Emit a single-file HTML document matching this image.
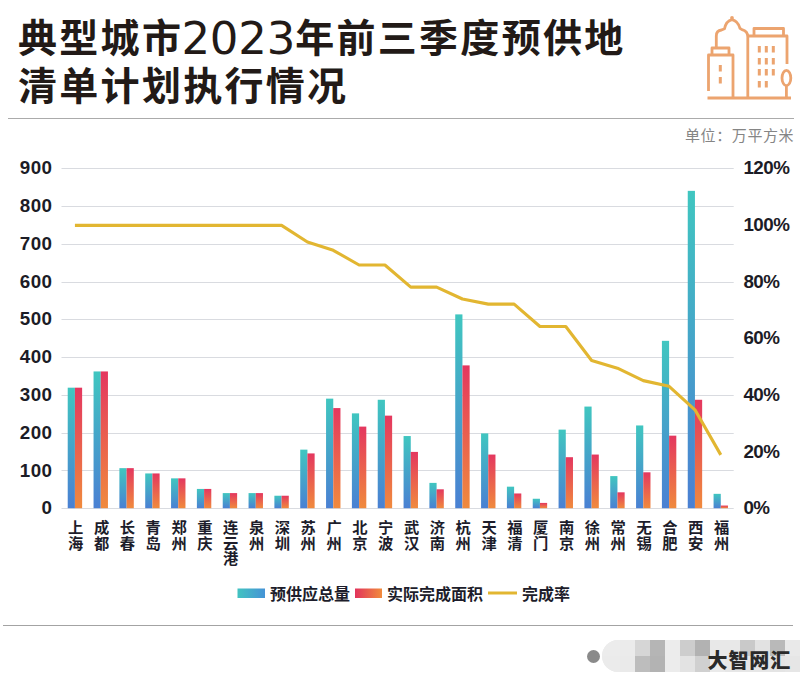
<!DOCTYPE html>
<html lang="zh-CN"><head><meta charset="utf-8"><title>典型城市2023年前三季度预供地清单计划执行情况</title>
<style>
html,body{margin:0;padding:0;background:#fff;}
body{width:800px;height:688px;position:relative;overflow:hidden;font-family:"Liberation Sans","Noto Sans CJK SC",sans-serif;}
.title{position:absolute;left:18px;top:13px;margin:0;font-family:"Liberation Sans","Noto Sans CJK SC",sans-serif;font-weight:700;font-size:39px;line-height:48px;letter-spacing:2.3px;color:#221a17;white-space:nowrap;}
.title .n{font-family:"DejaVu Sans",sans-serif;font-weight:400;font-size:45px;letter-spacing:-0.2px;position:relative;top:2px;margin-left:-1.8px;}
.hr{position:absolute;height:1px;background:#ababab;}
.unit{position:absolute;left:685px;top:126px;font-family:"Liberation Sans","Noto Sans CJK SC",sans-serif;font-size:15px;line-height:20px;color:#858585;letter-spacing:0.6px;}
svg text.ax{font-family:"Liberation Sans",sans-serif;font-weight:700;font-size:18.8px;fill:#1c1c26;letter-spacing:0.4px;}
svg text.axr{letter-spacing:-0.5px;}
svg text.xl{font-family:"Liberation Sans","Noto Sans CJK SC",sans-serif;font-weight:700;font-size:15.3px;fill:#1d1d2b;}
.legend{position:absolute;left:0;top:584.5px;height:20px;font-family:"Liberation Sans","Noto Sans CJK SC",sans-serif;font-weight:700;font-size:16px;line-height:20px;color:#1d1d2b;white-space:nowrap;}
.legend span{position:absolute;top:0;}
.sw{position:absolute;}
.dot{position:absolute;left:587px;top:649.5px;width:13px;height:13px;border-radius:50%;background:#8a8a8a;}
.mosaic{position:absolute;left:602px;top:640px;width:198px;height:31.5px;border-radius:16px 0 0 16px;overflow:hidden;background:#ebebeb;}
.mosaic i{position:absolute;width:15px;height:15.5px;}
.brand{position:absolute;left:707.5px;top:646.5px;font-family:"Liberation Sans","Noto Sans CJK SC",sans-serif;font-weight:900;font-size:20px;line-height:28px;color:#2a2a2a;letter-spacing:0.9px;}
</style></head>
<body>
<h1 class="title">典型城市<span class="n">2023</span>年前三季度预供地<br>清单计划执行情况</h1>
<svg class="icon" width="800" height="120" viewBox="0 0 800 120" style="position:absolute;left:0;top:0">
<g fill="none" stroke="#eca46f" stroke-width="2.8" stroke-linejoin="round" stroke-linecap="butt">
<line x1="707.5" y1="98" x2="791" y2="98"/>
<path d="M708.5 91 V55 H733 V98"/>
<path d="M712 55 V48 H729 V55"/>
<path d="M716.3 48 V36 Q716.3 30.5 721.5 30 L724.5 28.8 Q726 21 732 19.6 Q738 21 740 28.3 L742 29.6 Q747.8 31 747.8 37 V98"/>
<path d="M748 36 H787 V64"/>
<path d="M754 36 V28.5 H783.5 V36"/>
<ellipse cx="786.4" cy="78" rx="4.4" ry="7.6"/>
<line x1="786.4" y1="85.6" x2="786.4" y2="98"/>
</g>
<g fill="#eca46f">
<rect x="757.8" y="46.0" width="3" height="6.5"/><rect x="764.8" y="46.0" width="3" height="6.5"/><rect x="771.8" y="46.0" width="3" height="6.5"/>
<rect x="757.8" y="58.0" width="3" height="6.5"/><rect x="764.8" y="58.0" width="3" height="6.5"/><rect x="771.8" y="58.0" width="3" height="6.5"/>
<rect x="757.8" y="69.0" width="3" height="6.5"/><rect x="764.8" y="69.0" width="3" height="6.5"/><rect x="771.8" y="69.0" width="3" height="6.5"/>
<rect x="757.8" y="81.0" width="3" height="6.5"/><rect x="764.8" y="81.0" width="3" height="6.5"/>
<rect x="718.8" y="65.0" width="3" height="6.5"/><rect x="718.8" y="77.0" width="3" height="6.5"/>
<circle cx="732" cy="18" r="1.9"/>
</g>
</svg>
<div class="hr" style="left:8px;top:118px;width:786px;"></div>
<div class="unit">单位：万平方米</div>
<svg width="800" height="688" viewBox="0 0 800 688" style="position:absolute;left:0;top:0">
<defs>
<linearGradient id="gt" x1="0" y1="0" x2="0" y2="1"><stop offset="0" stop-color="#40c6c0"/><stop offset="1" stop-color="#4a80d3"/></linearGradient>
<linearGradient id="gr" x1="0" y1="0" x2="0" y2="1"><stop offset="0" stop-color="#e4375f"/><stop offset="1" stop-color="#f08a3d"/></linearGradient>
<linearGradient id="gth" x1="0" y1="0" x2="1" y2="0"><stop offset="0" stop-color="#42c3c1"/><stop offset="1" stop-color="#4593d6"/></linearGradient>
<linearGradient id="grh" x1="0" y1="0" x2="1" y2="0"><stop offset="0" stop-color="#e2335c"/><stop offset="1" stop-color="#f18c3c"/></linearGradient>
</defs>
<line x1="61.5" y1="508.5" x2="733.7" y2="508.5" stroke="#d9dbe0" stroke-width="1.1"/>
<line x1="61.5" y1="470.5" x2="733.7" y2="470.5" stroke="#d9dbe0" stroke-width="1.1"/>
<line x1="61.5" y1="433.5" x2="733.7" y2="433.5" stroke="#d9dbe0" stroke-width="1.1"/>
<line x1="61.5" y1="395.5" x2="733.7" y2="395.5" stroke="#d9dbe0" stroke-width="1.1"/>
<line x1="61.5" y1="357.5" x2="733.7" y2="357.5" stroke="#d9dbe0" stroke-width="1.1"/>
<line x1="61.5" y1="319.5" x2="733.7" y2="319.5" stroke="#d9dbe0" stroke-width="1.1"/>
<line x1="61.5" y1="282.5" x2="733.7" y2="282.5" stroke="#d9dbe0" stroke-width="1.1"/>
<line x1="61.5" y1="244.5" x2="733.7" y2="244.5" stroke="#d9dbe0" stroke-width="1.1"/>
<line x1="61.5" y1="206.5" x2="733.7" y2="206.5" stroke="#d9dbe0" stroke-width="1.1"/>
<line x1="61.5" y1="168.5" x2="733.7" y2="168.5" stroke="#d9dbe0" stroke-width="1.1"/>
<rect x="67.72" y="387.68" width="7.2" height="120.52" fill="url(#gt)"/>
<rect x="74.92" y="387.68" width="7.2" height="120.52" fill="url(#gr)"/>
<rect x="93.55" y="371.44" width="7.2" height="136.76" fill="url(#gt)"/>
<rect x="100.75" y="371.44" width="7.2" height="136.76" fill="url(#gr)"/>
<rect x="119.39" y="468.15" width="7.2" height="40.05" fill="url(#gt)"/>
<rect x="126.59" y="468.15" width="7.2" height="40.05" fill="url(#gr)"/>
<rect x="145.22" y="473.44" width="7.2" height="34.76" fill="url(#gt)"/>
<rect x="152.42" y="473.44" width="7.2" height="34.76" fill="url(#gr)"/>
<rect x="171.06" y="478.35" width="7.2" height="29.85" fill="url(#gt)"/>
<rect x="178.26" y="478.35" width="7.2" height="29.85" fill="url(#gr)"/>
<rect x="196.89" y="488.93" width="7.2" height="19.27" fill="url(#gt)"/>
<rect x="204.09" y="488.93" width="7.2" height="19.27" fill="url(#gr)"/>
<rect x="222.73" y="493.09" width="7.2" height="15.11" fill="url(#gt)"/>
<rect x="229.93" y="493.09" width="7.2" height="15.11" fill="url(#gr)"/>
<rect x="248.56" y="493.09" width="7.2" height="15.11" fill="url(#gt)"/>
<rect x="255.76" y="493.09" width="7.2" height="15.11" fill="url(#gr)"/>
<rect x="274.39" y="495.73" width="7.2" height="12.47" fill="url(#gt)"/>
<rect x="281.59" y="495.73" width="7.2" height="12.47" fill="url(#gr)"/>
<rect x="300.23" y="449.64" width="7.2" height="58.56" fill="url(#gt)"/>
<rect x="307.43" y="453.42" width="7.2" height="54.78" fill="url(#gr)"/>
<rect x="326.06" y="398.64" width="7.2" height="109.56" fill="url(#gt)"/>
<rect x="333.26" y="408.08" width="7.2" height="100.12" fill="url(#gr)"/>
<rect x="351.90" y="413.37" width="7.2" height="94.83" fill="url(#gt)"/>
<rect x="359.10" y="426.60" width="7.2" height="81.60" fill="url(#gr)"/>
<rect x="377.73" y="399.77" width="7.2" height="108.43" fill="url(#gt)"/>
<rect x="384.93" y="415.64" width="7.2" height="92.56" fill="url(#gr)"/>
<rect x="403.57" y="436.04" width="7.2" height="72.16" fill="url(#gt)"/>
<rect x="410.77" y="451.91" width="7.2" height="56.29" fill="url(#gr)"/>
<rect x="429.40" y="482.89" width="7.2" height="25.31" fill="url(#gt)"/>
<rect x="436.60" y="489.31" width="7.2" height="18.89" fill="url(#gr)"/>
<rect x="455.24" y="314.39" width="7.2" height="193.81" fill="url(#gt)"/>
<rect x="462.44" y="365.39" width="7.2" height="142.81" fill="url(#gr)"/>
<rect x="481.07" y="433.40" width="7.2" height="74.80" fill="url(#gt)"/>
<rect x="488.27" y="454.55" width="7.2" height="53.65" fill="url(#gr)"/>
<rect x="506.91" y="486.67" width="7.2" height="21.53" fill="url(#gt)"/>
<rect x="514.11" y="493.47" width="7.2" height="14.73" fill="url(#gr)"/>
<rect x="532.74" y="498.75" width="7.2" height="9.45" fill="url(#gt)"/>
<rect x="539.94" y="502.91" width="7.2" height="5.29" fill="url(#gr)"/>
<rect x="558.58" y="429.62" width="7.2" height="78.58" fill="url(#gt)"/>
<rect x="565.78" y="457.20" width="7.2" height="51.00" fill="url(#gr)"/>
<rect x="584.41" y="406.57" width="7.2" height="101.63" fill="url(#gt)"/>
<rect x="591.61" y="454.55" width="7.2" height="53.65" fill="url(#gr)"/>
<rect x="610.24" y="476.09" width="7.2" height="32.11" fill="url(#gt)"/>
<rect x="617.44" y="492.33" width="7.2" height="15.87" fill="url(#gr)"/>
<rect x="636.08" y="425.46" width="7.2" height="82.74" fill="url(#gt)"/>
<rect x="643.28" y="472.31" width="7.2" height="35.89" fill="url(#gr)"/>
<rect x="661.91" y="340.83" width="7.2" height="167.37" fill="url(#gt)"/>
<rect x="669.11" y="435.66" width="7.2" height="72.54" fill="url(#gr)"/>
<rect x="687.75" y="190.85" width="7.2" height="317.35" fill="url(#gt)"/>
<rect x="694.95" y="399.77" width="7.2" height="108.43" fill="url(#gr)"/>
<rect x="713.58" y="493.84" width="7.2" height="14.36" fill="url(#gt)"/>
<rect x="720.78" y="505.56" width="7.2" height="2.64" fill="url(#gr)"/>
<polyline points="74.92,225.35 100.75,225.35 126.59,225.35 152.42,225.35 178.26,225.35 204.09,225.35 229.93,225.35 255.76,225.35 281.59,225.35 307.43,242.07 333.26,250.28 359.10,265.02 384.93,265.02 410.77,287.12 436.60,287.12 462.44,299.02 488.27,304.12 514.11,304.12 539.94,326.51 565.78,326.51 591.61,360.51 617.44,368.16 643.28,380.63 669.11,386.29 694.95,409.81 720.78,454.86" fill="none" stroke="#e2b631" stroke-width="3.1" stroke-linejoin="round" stroke-linecap="butt"/>
<text x="52.4" y="514.30" class="ax" text-anchor="end">0</text>
<text x="52.4" y="476.52" class="ax" text-anchor="end">100</text>
<text x="52.4" y="438.74" class="ax" text-anchor="end">200</text>
<text x="52.4" y="400.96" class="ax" text-anchor="end">300</text>
<text x="52.4" y="363.18" class="ax" text-anchor="end">400</text>
<text x="52.4" y="325.40" class="ax" text-anchor="end">500</text>
<text x="52.4" y="287.62" class="ax" text-anchor="end">600</text>
<text x="52.4" y="249.84" class="ax" text-anchor="end">700</text>
<text x="52.4" y="212.06" class="ax" text-anchor="end">800</text>
<text x="52.4" y="174.28" class="ax" text-anchor="end">900</text>
<text x="743.4" y="514.30" class="ax axr">0%</text>
<text x="743.4" y="457.63" class="ax axr">20%</text>
<text x="743.4" y="400.96" class="ax axr">40%</text>
<text x="743.4" y="344.29" class="ax axr">60%</text>
<text x="743.4" y="287.62" class="ax axr">80%</text>
<text x="743.4" y="230.95" class="ax axr">100%</text>
<text x="743.4" y="174.28" class="ax axr">120%</text>
<text x="75.72" y="533.0" class="xl" text-anchor="middle">上</text>
<text x="75.72" y="548.7" class="xl" text-anchor="middle">海</text>
<text x="101.55" y="533.0" class="xl" text-anchor="middle">成</text>
<text x="101.55" y="548.7" class="xl" text-anchor="middle">都</text>
<text x="127.39" y="533.0" class="xl" text-anchor="middle">长</text>
<text x="127.39" y="548.7" class="xl" text-anchor="middle">春</text>
<text x="153.22" y="533.0" class="xl" text-anchor="middle">青</text>
<text x="153.22" y="548.7" class="xl" text-anchor="middle">岛</text>
<text x="179.06" y="533.0" class="xl" text-anchor="middle">郑</text>
<text x="179.06" y="548.7" class="xl" text-anchor="middle">州</text>
<text x="204.89" y="533.0" class="xl" text-anchor="middle">重</text>
<text x="204.89" y="548.7" class="xl" text-anchor="middle">庆</text>
<text x="230.73" y="533.0" class="xl" text-anchor="middle">连</text>
<text x="230.73" y="548.7" class="xl" text-anchor="middle">云</text>
<text x="230.73" y="564.4" class="xl" text-anchor="middle">港</text>
<text x="256.56" y="533.0" class="xl" text-anchor="middle">泉</text>
<text x="256.56" y="548.7" class="xl" text-anchor="middle">州</text>
<text x="282.39" y="533.0" class="xl" text-anchor="middle">深</text>
<text x="282.39" y="548.7" class="xl" text-anchor="middle">圳</text>
<text x="308.23" y="533.0" class="xl" text-anchor="middle">苏</text>
<text x="308.23" y="548.7" class="xl" text-anchor="middle">州</text>
<text x="334.06" y="533.0" class="xl" text-anchor="middle">广</text>
<text x="334.06" y="548.7" class="xl" text-anchor="middle">州</text>
<text x="359.90" y="533.0" class="xl" text-anchor="middle">北</text>
<text x="359.90" y="548.7" class="xl" text-anchor="middle">京</text>
<text x="385.73" y="533.0" class="xl" text-anchor="middle">宁</text>
<text x="385.73" y="548.7" class="xl" text-anchor="middle">波</text>
<text x="411.57" y="533.0" class="xl" text-anchor="middle">武</text>
<text x="411.57" y="548.7" class="xl" text-anchor="middle">汉</text>
<text x="437.40" y="533.0" class="xl" text-anchor="middle">济</text>
<text x="437.40" y="548.7" class="xl" text-anchor="middle">南</text>
<text x="463.24" y="533.0" class="xl" text-anchor="middle">杭</text>
<text x="463.24" y="548.7" class="xl" text-anchor="middle">州</text>
<text x="489.07" y="533.0" class="xl" text-anchor="middle">天</text>
<text x="489.07" y="548.7" class="xl" text-anchor="middle">津</text>
<text x="514.91" y="533.0" class="xl" text-anchor="middle">福</text>
<text x="514.91" y="548.7" class="xl" text-anchor="middle">清</text>
<text x="540.74" y="533.0" class="xl" text-anchor="middle">厦</text>
<text x="540.74" y="548.7" class="xl" text-anchor="middle">门</text>
<text x="566.58" y="533.0" class="xl" text-anchor="middle">南</text>
<text x="566.58" y="548.7" class="xl" text-anchor="middle">京</text>
<text x="592.41" y="533.0" class="xl" text-anchor="middle">徐</text>
<text x="592.41" y="548.7" class="xl" text-anchor="middle">州</text>
<text x="618.24" y="533.0" class="xl" text-anchor="middle">常</text>
<text x="618.24" y="548.7" class="xl" text-anchor="middle">州</text>
<text x="644.08" y="533.0" class="xl" text-anchor="middle">无</text>
<text x="644.08" y="548.7" class="xl" text-anchor="middle">锡</text>
<text x="669.91" y="533.0" class="xl" text-anchor="middle">合</text>
<text x="669.91" y="548.7" class="xl" text-anchor="middle">肥</text>
<text x="695.75" y="533.0" class="xl" text-anchor="middle">西</text>
<text x="695.75" y="548.7" class="xl" text-anchor="middle">安</text>
<text x="721.58" y="533.0" class="xl" text-anchor="middle">福</text>
<text x="721.58" y="548.7" class="xl" text-anchor="middle">州</text>
<rect x="237.5" y="588.5" width="27.5" height="9.5" fill="url(#gth)"/>
<rect x="355" y="588.5" width="27" height="9.5" fill="url(#grh)"/>
<line x1="488" y1="593" x2="517" y2="593" stroke="#e2b631" stroke-width="3"/>
</svg>
<div class="legend"><span style="left:270px">预供应总量</span><span style="left:387px">实际完成面积</span><span style="left:522px">完成率</span></div>
<div class="hr" style="left:3px;top:625px;width:790px;background:#a3a3a3"></div>
<div class="dot"></div>
<div class="mosaic">
<i style="left:0px;top:0;width:18px;background:#ececec"></i><i style="left:0px;top:15.5px;width:18px;height:16px;background:#ebebeb"></i><i style="left:18px;top:0;width:15px;background:#ebebeb"></i><i style="left:18px;top:15.5px;width:15px;height:16px;background:#eaeaea"></i><i style="left:33px;top:0;width:15px;background:#d6d6d6"></i><i style="left:33px;top:15.5px;width:15px;height:16px;background:#bdbdbd"></i><i style="left:48px;top:0;width:15px;background:#b5b5b5"></i><i style="left:48px;top:15.5px;width:15px;height:16px;background:#b3b3b3"></i><i style="left:63px;top:0;width:15px;background:#ececec"></i><i style="left:63px;top:15.5px;width:15px;height:16px;background:#ececec"></i><i style="left:78px;top:0;width:15px;background:#cdcdcd"></i><i style="left:78px;top:15.5px;width:15px;height:16px;background:#e3e3e3"></i><i style="left:93px;top:0;width:15px;background:#b2b2b2"></i><i style="left:93px;top:15.5px;width:15px;height:16px;background:#d0d0d0"></i><i style="left:108px;top:0;width:15px;background:#e8e8e8"></i><i style="left:108px;top:15.5px;width:15px;height:16px;background:#eaeaea"></i><i style="left:123px;top:0;width:15px;background:#e8e8e8"></i><i style="left:123px;top:15.5px;width:15px;height:16px;background:#e6e6e6"></i><i style="left:138px;top:0;width:15px;background:#c9c9c9"></i><i style="left:138px;top:15.5px;width:15px;height:16px;background:#e6e6e6"></i><i style="left:153px;top:0;width:15px;background:#e2e2e2"></i><i style="left:153px;top:15.5px;width:15px;height:16px;background:#e6e6e6"></i><i style="left:168px;top:0;width:15px;background:#b9b9b9"></i><i style="left:168px;top:15.5px;width:15px;height:16px;background:#e4e4e4"></i><i style="left:183px;top:0;width:15px;background:#e9e9e9"></i><i style="left:183px;top:15.5px;width:15px;height:16px;background:#e6e6e6"></i>
</div>
<div class="brand">大智网汇</div>
</body></html>
